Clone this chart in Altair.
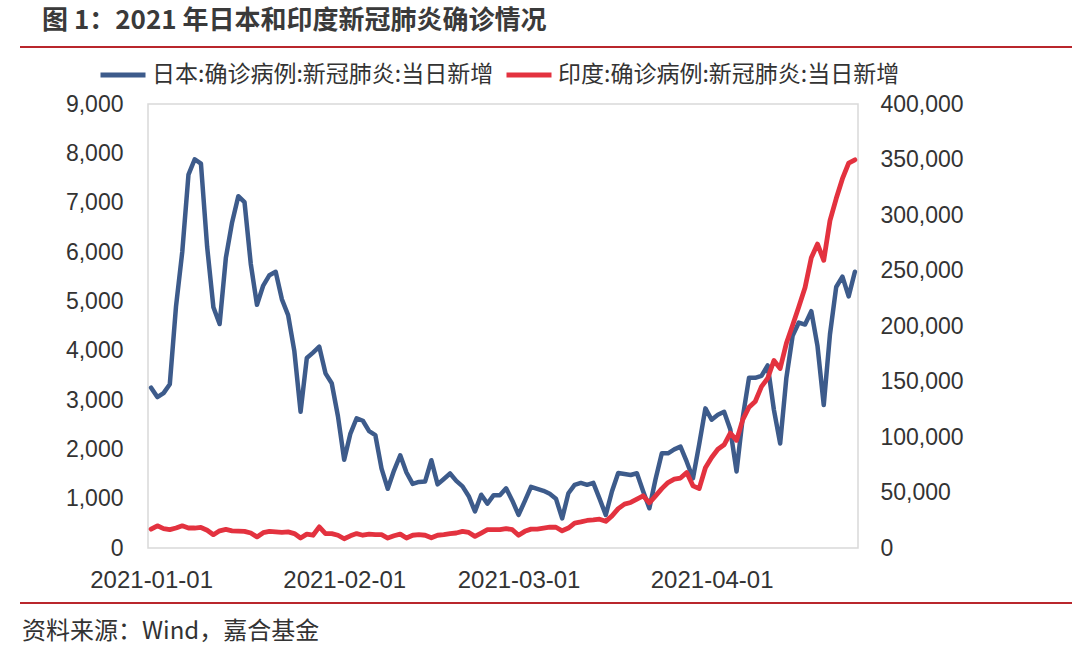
import altair as alt
import pandas as pd

# ---------------- data ----------------
japan = [
    3250, 3060, 3140, 3320, 4900, 6000, 7570, 7880, 7790, 6100,
    4880, 4540, 5880, 6600, 7130, 7010, 5760, 4930, 5320, 5530,
    5600, 5040, 4720, 3990, 2760, 3850, 3960, 4080, 3540, 3340,
    2670, 1790, 2320, 2630, 2580, 2370, 2290, 1610, 1200, 1570,
    1880, 1530, 1300, 1340, 1350, 1780, 1290, 1400, 1510, 1360,
    1250, 1050, 740, 1080, 900, 1070, 1070, 1210, 960, 670,
    950, 1240, 1200, 1160, 1100, 1000, 600, 1110, 1280, 1320,
    1280, 1320, 1000, 670, 1150, 1520, 1500, 1480, 1515, 1150,
    805, 1400, 1920, 1920, 2000, 2055, 1750, 1413, 2100, 2830,
    2600, 2700, 2760, 2400, 1550, 2650, 3450, 3450, 3490, 3700,
    2800, 2120, 3450, 4300, 4570, 4530, 4800, 4090, 2900, 4330,
    5290, 5500, 5100, 5600,
]
india = [
    17000, 20000, 17500, 16500, 18000, 20000, 18000, 18000, 18500, 16000,
    12000, 15500, 16800, 15500, 15200, 15000, 13500, 10000, 13800, 15000,
    14500, 14000, 14500, 13000, 9000, 12500, 11500, 19000, 13000, 13000,
    11500, 8300, 11000, 13000, 11500, 12500, 12000, 12000, 9000, 11000,
    12500, 9000, 11500, 12000, 11500, 9200, 11500, 12000, 13000, 13500,
    15000, 14000, 10500, 13500, 16500, 16500, 16500, 17500, 16500, 11500,
    15000, 17000, 17000, 18000, 18700, 18700, 15500, 18000, 22500, 23500,
    24800, 25300, 26000, 24000, 28900, 35500, 39500, 41000, 44000, 47000,
    40700, 47000, 53500, 59000, 62000, 63000, 68000, 56000, 53500, 72300,
    81500, 89000, 93000, 103500, 97000, 115700, 126800, 132000, 145400, 152900,
    168900, 161700, 184400, 200700, 217400, 234700, 261500, 273800, 259200, 295000,
    314800, 332700, 346800, 349700,
]
dates = [d.strftime("%Y-%m-%dT00:00:00") for d in pd.date_range("2021-01-01", periods=len(japan))]

jp_label = "日本:确诊病例:新冠肺炎:当日新增"
in_label = "印度:确诊病例:新冠肺炎:当日新增"
left_ticks = list(range(0, 9001, 1000))
right_ticks = list(range(0, 400001, 50000))
x_ticks = ["2021-01-01", "2021-02-01", "2021-03-01", "2021-04-01"]
title_text = "图 1：2021 年日本和印度新冠肺炎确诊情况"
source_text = "资料来源：Wind，嘉合基金"

BLUE = "#3d5b8b"
RED = "#e3323f"
DARKRED = "#b9262c"
TXT = "#333333"
CJK = "Noto Sans CJK SC"
NUM = "Liberation Sans"

df = pd.DataFrame({"date": dates, "japan": japan, "india": india,
                   "s_jp": jp_label, "s_in": in_label})

def dt(s):
    y, m, d = (int(p) for p in s.split("-"))
    return alt.DateTime(year=y, month=m, date=d)

x_enc = alt.X(
    "date:T",
    scale=alt.Scale(domain=[alt.DateTime(year=2020, month=12, date=31, hours=12),
                            alt.DateTime(year=2021, month=4, date=24, hours=12)]),
    axis=alt.Axis(values=[dt(s) for s in x_ticks], format="%Y-%m-%d", title=None,
                  grid=False, ticks=False, domain=False, labelFont=NUM,
                  labelFontSize=24, labelColor=TXT, labelPadding=20,
                  labelOverlap=False, labelFlush=False),
)

color_scale = alt.Scale(domain=[jp_label, in_label], range=[BLUE, RED])
legend = alt.Legend(orient="none", legendX=-50, legendY=-54,
                    direction="horizontal", title=None,
                    symbolType="stroke", symbolSize=2025,
                    symbolStrokeWidth=5, labelFont=CJK,
                    labelFontSize=23, labelColor=TXT,
                    labelLimit=0, labelOffset=4, columnPadding=2)

base = alt.Chart(df)

jp_line = base.mark_line(strokeWidth=4.5, strokeJoin="round", strokeCap="round").encode(
    x=x_enc,
    y=alt.Y("japan:Q", scale=alt.Scale(domain=[0, 9000], nice=False),
            axis=alt.Axis(values=left_ticks, format=",.0f", title=None, grid=False,
                          ticks=False, domain=False, labelFont=NUM, labelFontSize=23,
                          labelColor=TXT, labelPadding=25)),
    color=alt.Color("s_jp:N", scale=color_scale, legend=legend),
)

in_line = base.mark_line(strokeWidth=4.8, strokeJoin="round", strokeCap="round").encode(
    x=alt.X("date:T"),
    y=alt.Y("india:Q", scale=alt.Scale(domain=[0, 400000], nice=False),
            axis=alt.Axis(values=right_ticks, format=",.0f", title=None, grid=False,
                          ticks=False, domain=False, orient="right", labelFont=NUM,
                          labelFontSize=23, labelColor=TXT, labelPadding=22)),
    color=alt.Color("s_in:N", scale=color_scale, legend=legend),
)

lines = alt.layer(jp_line, in_line).resolve_scale(y="independent")

title_mark = alt.Chart(pd.DataFrame({"t": [title_text]})).mark_text(
    align="left", baseline="middle", font=CJK, fontSize=26, fontWeight="bold", color="#3a3a3a"
).encode(x=alt.value(-106), y=alt.value(-83), text="t:N")

source_mark = alt.Chart(pd.DataFrame({"t": [source_text]})).mark_text(
    align="left", baseline="middle", font=CJK, fontSize=24, color=TXT
).encode(x=alt.value(-126), y=alt.value(528), text="t:N")

rule_df = pd.DataFrame({"r": [0]})
top_rule = alt.Chart(rule_df).mark_rule(color=DARKRED, strokeWidth=2).encode(
    x=alt.value(-128), x2=alt.value(924), y=alt.value(-57))
bottom_rule = alt.Chart(rule_df).mark_rule(color=DARKRED, strokeWidth=2).encode(
    x=alt.value(-128), x2=alt.value(924), y=alt.value(499))

chart = alt.layer(lines, title_mark, source_mark, top_rule, bottom_rule).properties(
    width=710, height=444,
    autosize=alt.AutoSizeParams(type="none"),
    padding={"left": 148, "top": 104, "right": 222, "bottom": 102},
    background="white",
).configure_view(stroke="#d9d9d9", strokeWidth=1.5)

chart.save("out.html", embed_options={"renderer": "svg", "actions": False})
